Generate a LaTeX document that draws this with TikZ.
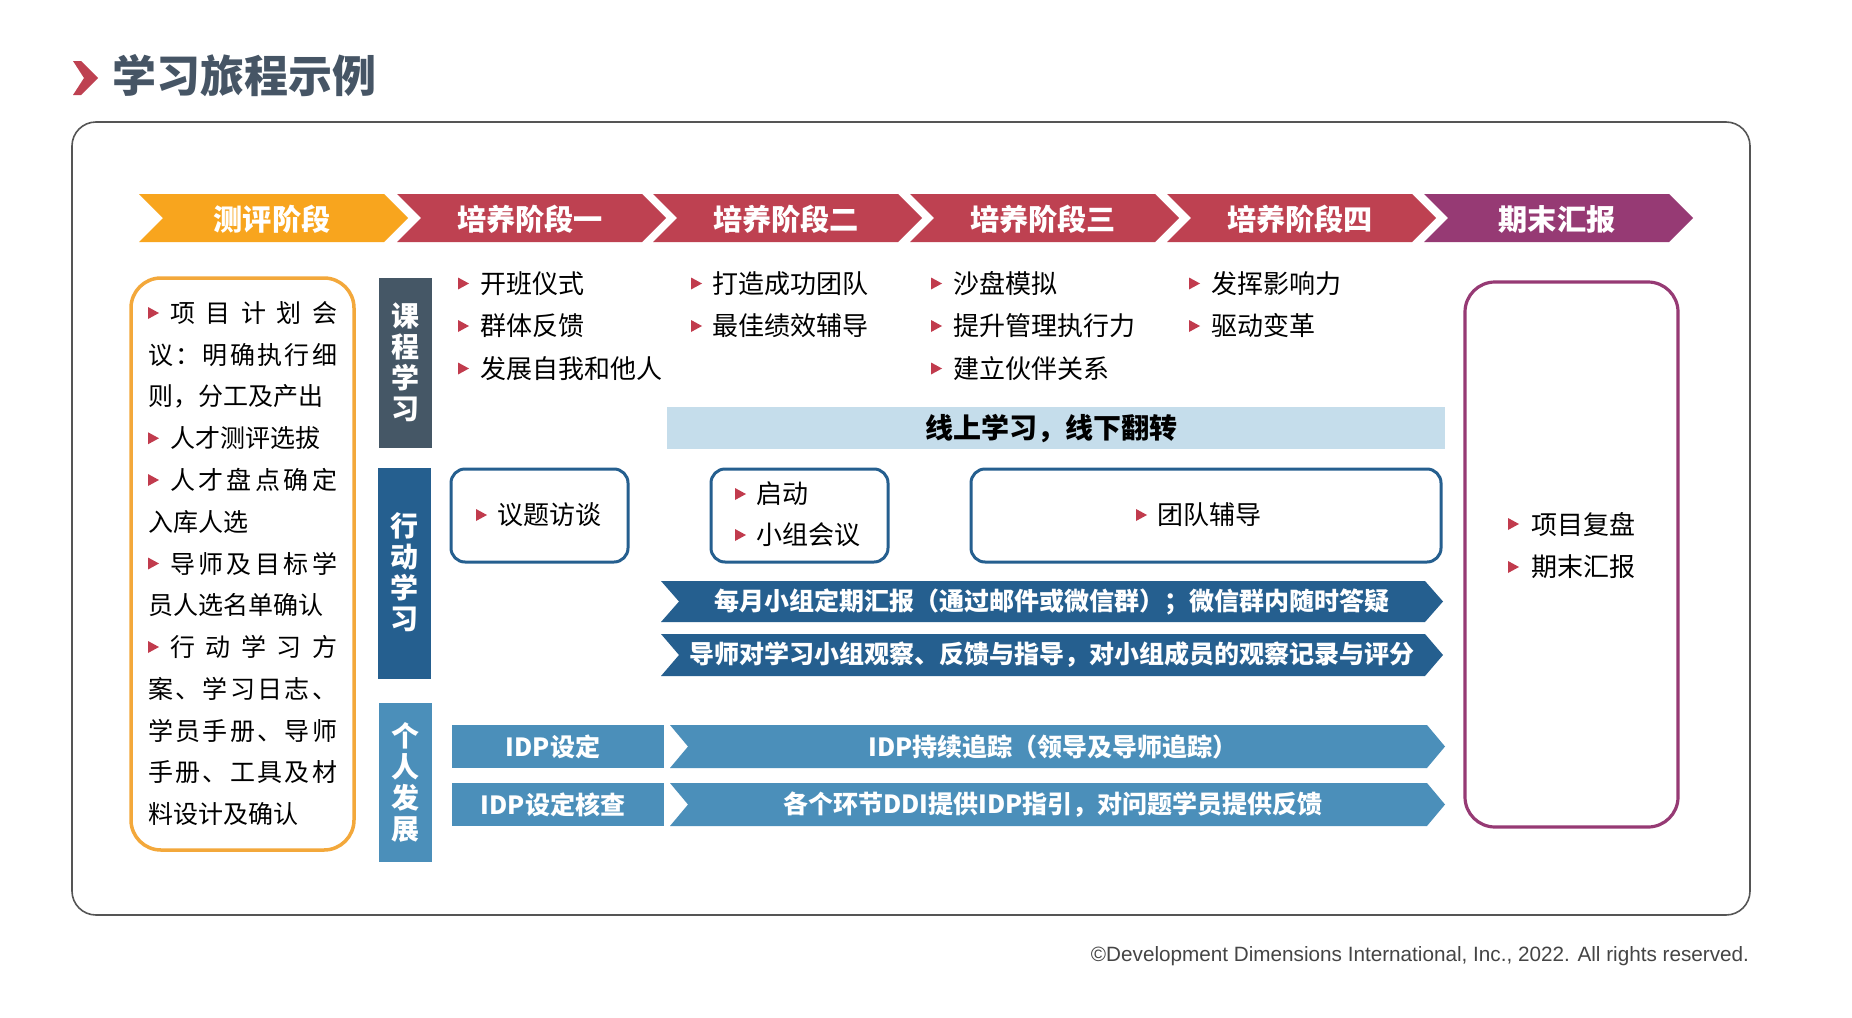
\documentclass[tikz,border=0pt]{standalone}
\usepackage{fontspec}
\setmainfont{Liberation Sans}
\newfontfamily\cjk{Noto Sans CJK SC}
\definecolor{corange}{HTML}{F8A51E}
\definecolor{cred}{HTML}{BE4151}
\definecolor{cpurple}{HTML}{963A74}
\definecolor{cslate}{HTML}{455766}
\definecolor{cdark}{HTML}{255F8F}
\definecolor{cmid}{HTML}{4B8FBA}
\definecolor{clight}{HTML}{C5DDEB}
\definecolor{bulred}{HTML}{C13B4D}
\definecolor{ctitle}{HTML}{465565}
\definecolor{cframe}{HTML}{555555}
\definecolor{cgray}{HTML}{454545}
\definecolor{obox}{HTML}{F3A83B}
\newcommand\bul[2]{\fill[bulred] (#1,#2-6) -- (#1+11,#2) -- (#1,#2+6) -- cycle;}
\begin{document}
\begin{tikzpicture}[x=0.5pt,y=-0.5pt,
  every node/.style={inner sep=0pt,outer sep=0pt},
  phase/.style={text=white,font=\cjk\bfseries\fontsize{14.6}{16}\selectfont},
  bantext/.style={text=white,font=\cjk\bfseries\fontsize{12.5}{15}\selectfont},
  item/.style={anchor=west,font=\cjk\fontsize{13}{15}\selectfont},
  ltext/.style={anchor=west,font=\cjk\fontsize{12.5}{15}\selectfont},
  vlabel/.style={text=white,align=center,font=\cjk\bfseries\fontsize{14}{15.5}\selectfont},
  bluebox/.style={draw=cdark,line width=1.5pt,rounded corners=7pt}]
\useasboundingbox (0,0) rectangle (1852,1017);
\fill[white] (0,0) rectangle (1852,1017);
% title
\fill[cred] (73,61) -- (81,61) -- (98,78) -- (81,95) -- (73,95) -- (84,78) -- cycle;
\node[anchor=west,text=ctitle,font=\cjk\bfseries\fontsize{22}{24}\selectfont] (title) at (112,76) {学习旅程示例};
% frame
\draw[cframe,line width=0.8pt,rounded corners=12pt] (72,122) rectangle (1750,915);
% phase chevrons
\foreach \L/\c/\t [count=\i] in {139/corange/测评阶段,397/cred/培养阶段一,653/cred/培养阶段二,910/cred/培养阶段三,1167/cred/培养阶段四,1424/cpurple/期末汇报}{
  \fill[\c] (\L,194) -- ++(245,0) -- ++(24,24) -- ++(-24,24) -- ++(-245,0) -- ++(24,-24) -- cycle;
  \node[phase] (ph\i) at (\L+133,219) {\t};
}
% left orange box
\draw[obox,line width=1.75pt,rounded corners=15pt] (131,278) rectangle (354,850);
\bul{148}{313}
\node[ltext] (l1) at (170,313) {\hbox to 83.5pt{项\hfill 目\hfill 计\hfill 划\hfill 会}};
\node[ltext] (l2) at (148,354.75) {\hbox to 94.5pt{议\hfill ：\hfill 明\hfill 确\hfill 执\hfill 行\hfill 细}};
\node[ltext] (l3) at (148,396.5) {则，分工及产出};
\bul{148}{438.25}
\node[ltext] (l4) at (170,438.25) {人才测评选拔};
\bul{148}{480}
\node[ltext] (l5) at (170,480) {\hbox to 83.5pt{人\hfill 才\hfill 盘\hfill 点\hfill 确\hfill 定}};
\node[ltext] (l6) at (148,521.75) {入库人选};
\bul{148}{563.5}
\node[ltext] (l7) at (170,563.5) {\hbox to 83.5pt{导\hfill 师\hfill 及\hfill 目\hfill 标\hfill 学}};
\node[ltext] (l8) at (148,605.25) {员人选名单确认};
\bul{148}{647}
\node[ltext] (l9) at (170,647) {\hbox to 83.5pt{行\hfill 动\hfill 学\hfill 习\hfill 方}};
\node[ltext] (l10) at (148,688.75) {\hbox to 94.5pt{案\hfill 、\hfill 学\hfill 习\hfill 日\hfill 志\hfill 、}};
\node[ltext] (l11) at (148,730.5) {\hbox to 94.5pt{学\hfill 员\hfill 手\hfill 册\hfill 、\hfill 导\hfill 师}};
\node[ltext] (l12) at (148,772.25) {\hbox to 94.5pt{手\hfill 册\hfill 、\hfill 工\hfill 具\hfill 及\hfill 材}};
\node[ltext] (l13) at (148,814) {料设计及确认};
% side labels
\fill[cslate] (379,278) rectangle (432,448);
\node[vlabel] (v1) at (405.5,362) {课\\程\\学\\习};
\fill[cdark] (378,468) rectangle (431,679);
\node[vlabel] (v2) at (404.5,572) {行\\动\\学\\习};
\fill[cmid] (379,703) rectangle (432,862);
\node[vlabel] (v3) at (405.5,782) {个\\人\\发\\展};
% course items
\bul{458}{283.5}\node[item] (c11) at (480,283.5) {开班仪式};
\bul{458}{326}\node[item] (c12) at (480,326) {群体反馈};
\bul{458}{368.5}\node[item] (c13) at (480,368.5) {发展自我和他人};
\bul{691}{283.5}\node[item] (c21) at (712,283.5) {打造成功团队};
\bul{691}{326}\node[item] (c22) at (712,326) {最佳绩效辅导};
\bul{931}{283.5}\node[item] (c31) at (953,283.5) {沙盘模拟};
\bul{931}{326}\node[item] (c32) at (953,326) {提升管理执行力};
\bul{931}{368.5}\node[item] (c33) at (953,368.5) {建立伙伴关系};
\bul{1189}{283.5}\node[item] (c41) at (1211,283.5) {发挥影响力};
\bul{1189}{326}\node[item] (c42) at (1211,326) {驱动变革};
% light bar
\fill[clight] (667,407) rectangle (1445,449);
\node[font=\cjk\bfseries\fontsize{14}{16}\selectfont] (online) at (1051,429) {线上学习，线下翻转};
% action boxes
\draw[bluebox] (451,469) rectangle (628,562);
\bul{476}{515}\node[item] (a1) at (497,515) {议题访谈};
\draw[bluebox] (711,469) rectangle (888,562);
\bul{735}{494}\node[item] (a2) at (756,494) {启动};
\bul{735}{535}\node[item] (a3) at (756,535) {小组会议};
\draw[bluebox] (971,469) rectangle (1441,562);
\bul{1136}{515}\node[item] (a4) at (1157,515) {团队辅导};
% dark banners
\fill[cdark] (661,581) -- (1425,581) -- (1443,601.5) -- (1425,622) -- (661,622) -- (679,601.5) -- cycle;
\node[bantext] (b1) at (1052,601.5) {每月小组定期汇报（通过邮件或微信群）；微信群内随时答疑};
\fill[cdark] (661,634) -- (1425,634) -- (1443,655) -- (1425,676) -- (661,676) -- (679,655) -- cycle;
\node[bantext] (b2) at (1052,655) {导师对学习小组观察、反馈与指导，对小组成员的观察记录与评分};
% IDP rows
\fill[cmid] (452,725) rectangle (664,768);
\node[bantext] (i1) at (553,746.5) {IDP设定};
\fill[cmid] (670,725) -- (1427,725) -- (1445,746.5) -- (1427,768) -- (670,768) -- (688,746.5) -- cycle;
\node[bantext] (i2) at (1053,746.5) {IDP持续追踪（领导及导师追踪）};
\fill[cmid] (452,783) rectangle (664,826);
\node[bantext] (i3) at (553,804.5) {IDP设定核查};
\fill[cmid] (670,783) -- (1427,783) -- (1445,804.5) -- (1427,826) -- (670,826) -- (688,804.5) -- cycle;
\node[bantext] (i4) at (1053,804.5) {各个环节DDI提供IDP指引，对问题学员提供反馈};
% purple box
\draw[cpurple,line width=1.6pt,rounded corners=15pt] (1465,282) rectangle (1678,827);
\bul{1508}{524}\node[item] (p1) at (1531,524) {项目复盘};
\bul{1508}{567}\node[item] (p2) at (1531,567) {期末汇报};
% copyright
\node[anchor=east,text=cgray,font=\fontsize{10.35}{12}\selectfont] (copy) at (1749,956) {©Development Dimensions International, Inc., 2022. All rights reserved.};
\end{tikzpicture}
\end{document}
